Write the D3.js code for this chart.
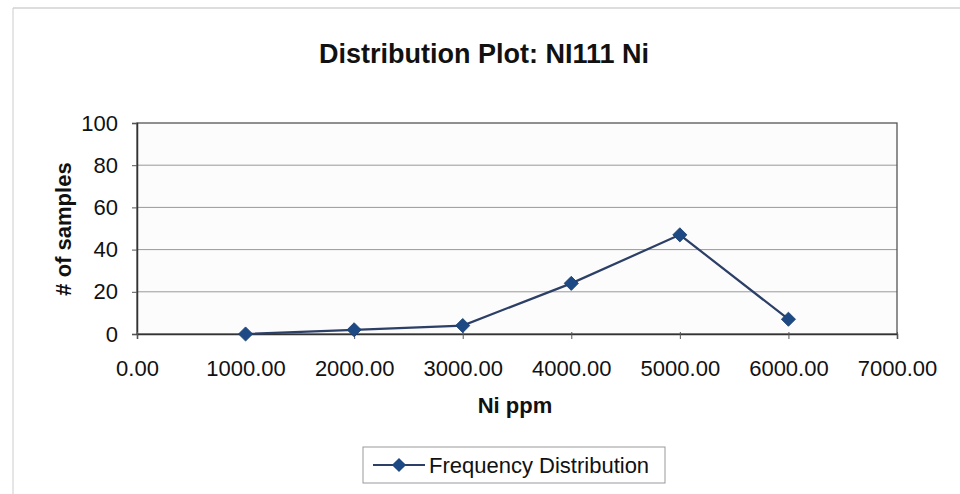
<!DOCTYPE html>
<html><head><meta charset="utf-8">
<script src="https://cdn.jsdelivr.net/npm/d3@7/dist/d3.min.js"></script>
<style>body{margin:0;background:#fff}svg{display:block}text{font-family:Arial,"Liberation Sans",sans-serif;fill:#111}</style>
</head><body><svg id="c" width="960" height="494"></svg>
<script>
const xValues = [1000, 2000, 3000, 4000, 5000, 6000];
const counts = [0, 2, 4, 24, 47, 7];
const xTicks = [0, 1000, 2000, 3000, 4000, 5000, 6000, 7000];
const yTicks = [0, 20, 40, 60, 80, 100];
const title = "Distribution Plot: NI111 Ni";
const xTitle = "Ni ppm";
const yTitle = "# of samples";
const seriesName = "Frequency Distribution";

const svg = d3.select("#c");
const m = {l:137, r:897, t:123, b:334};
const x = d3.scaleLinear().domain([0,7000]).range([m.l, m.r]);
const y = d3.scaleLinear().domain([0,100]).range([m.b, m.t]);

// outer chart frame
svg.append("line").attr("x1",13).attr("x2",960).attr("y1",8).attr("y2",8).attr("stroke","#bbb");
svg.append("line").attr("x1",13).attr("x2",13).attr("y1",8).attr("y2",494).attr("stroke","#ccc");

// plot area
svg.append("rect").attr("x",m.l).attr("y",m.t).attr("width",m.r-m.l).attr("height",m.b-m.t).attr("fill","#fcfcfc");

// gridlines
svg.append("g").selectAll("line").data(yTicks.filter(d=>d>0&&d<100)).join("line")
  .attr("x1",m.l).attr("x2",m.r).attr("y1",d=>y(d)).attr("y2",d=>y(d))
  .attr("stroke","#999").attr("stroke-width",1);

svg.append("rect").attr("x",m.l).attr("y",m.t).attr("width",m.r-m.l).attr("height",m.b-m.t)
  .attr("fill","none").attr("stroke","#555").attr("stroke-width",1.3);

// axes
const yAxis = svg.append("g").attr("transform",`translate(${m.l},0)`)
  .call(d3.axisLeft(y).tickValues(yTicks).tickSize(5).tickPadding(14).tickFormat(d3.format("d")));
const xAxis = svg.append("g").attr("transform",`translate(0,${m.b})`)
  .call(d3.axisBottom(x).tickValues(xTicks).tickSize(5).tickPadding(21).tickFormat(d3.format(".2f")));
[yAxis,xAxis].forEach(a=>{
  a.select(".domain").attr("stroke","#333").attr("stroke-width",1.5);
  a.selectAll(".tick line").attr("stroke","#555");
  a.selectAll("text").style("font-size","22px").style("font-family","Arial, 'Liberation Sans', sans-serif").attr("fill","#1a1a1a");
});
xAxis.selectAll(".tick line").attr("y1",-2);

// line
const pts = xValues.map((v,i)=>[v,counts[i]]);
svg.append("path").datum(pts).attr("fill","none").attr("stroke","#2c3f66").attr("stroke-width",2.2)
  .attr("d", d3.line().x(d=>x(d[0])).y(d=>y(d[1])));
const diamond = d3.symbol().type(d3.symbolSquare).size(100);
svg.append("g").selectAll("path").data(pts).join("path")
  .attr("transform",d=>`translate(${x(d[0])},${y(d[1])}) rotate(45)`)
  .attr("d",diamond).attr("fill","#1d4a85").attr("stroke","#1a3e6e").attr("stroke-width",0.8);

// titles
svg.append("text").attr("x",484).attr("y",63).attr("text-anchor","middle")
  .style("font-size","27px").style("font-weight","bold").text(title);
svg.append("text").attr("x",515).attr("y",413).attr("text-anchor","middle")
  .style("font-size","22px").style("font-weight","bold").text(xTitle);
svg.append("text").attr("transform","translate(71,229) rotate(-90)").attr("text-anchor","middle")
  .style("font-size","22px").style("font-weight","bold").text(yTitle);

// legend
const lg = svg.append("g");
lg.append("rect").attr("x",363).attr("y",447).attr("width",302).attr("height",36)
  .attr("fill","#fff").attr("stroke","#999");
lg.append("line").attr("x1",373).attr("x2",425).attr("y1",465).attr("y2",465).attr("stroke","#2c3f66").attr("stroke-width",2.2);
lg.append("path").attr("transform","translate(399,465) rotate(45)").attr("d",diamond).attr("fill","#1d4a85");
lg.append("text").attr("x",429).attr("y",473).style("font-size","22px").attr("fill","#1a1a1a").text(seriesName);
</script></body></html>
